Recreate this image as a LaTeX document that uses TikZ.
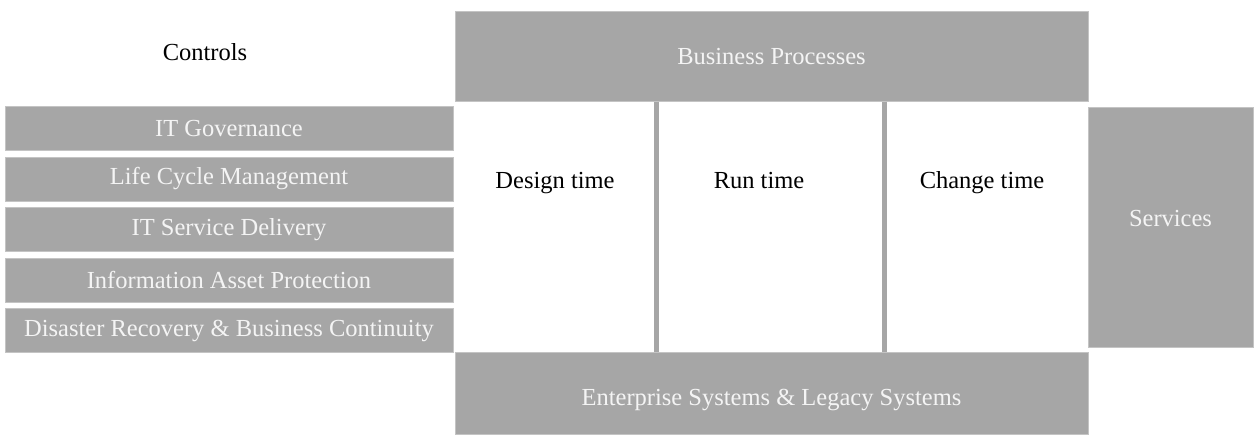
\documentclass[tikz,border=0pt]{standalone}
\usepackage{fontspec}
\setmainfont{Liberation Serif}
\usetikzlibrary{positioning}

\definecolor{boxgray}{HTML}{A6A6A6}
\definecolor{edgegray}{HTML}{C4C4C4}
\definecolor{textwhite}{HTML}{F4F4F4}

\begin{document}
\begin{tikzpicture}[x=1pt,y=-1pt,node distance=5.5pt,
  every node/.style={font=\fontsize{24.5}{29}\selectfont},
  block/.style={rectangle,fill=boxgray,draw=edgegray,line width=1pt,
    text=textwhite,inner sep=0pt},
  ctrl/.style={block,minimum width=448pt,minimum height=44pt},
  divider/.style={draw=boxgray,line width=5pt}]
  \useasboundingbox (0,0) rectangle (1255,436);

  \node (controls) at (205,52) {Controls};
  \node[ctrl] (gov) at (229,128.5) {IT Governance};
  \node[ctrl] (lcm) [below=of gov] {Life Cycle Management};
  \node[ctrl] (isd) [below=of lcm] {IT Service Delivery};
  \node[ctrl] (iap) [below=of isd] {Information Asset Protection};
  \node[ctrl] (drbc) [below=of iap] {Disaster Recovery \& Business Continuity};

  \node[block,minimum width=633pt,minimum height=89pt] (bp) at (771.5,56.5) {Business Processes};
  \node[block,minimum width=633pt,minimum height=82pt,text height=31pt] (ent) at (771.5,393) {Enterprise Systems \& Legacy Systems};
  \node[block,minimum width=165pt,minimum height=240pt,text depth=17pt] (svc) at (1170.5,227) {Services};

  \coordinate (d1) at (656,0);
  \coordinate (d2) at (884,0);
  \path[divider]
  (bp.south -| d1) -- (ent.north -| d1)
  (bp.south -| d2) -- (ent.north -| d2);

  \node[anchor=base] (design) at (555,188) {Design time};
  \node[anchor=base] (run) at (759,188) {Run time};
  \node[anchor=base] (change) at (982,188) {Change time};
\end{tikzpicture}
\end{document}
